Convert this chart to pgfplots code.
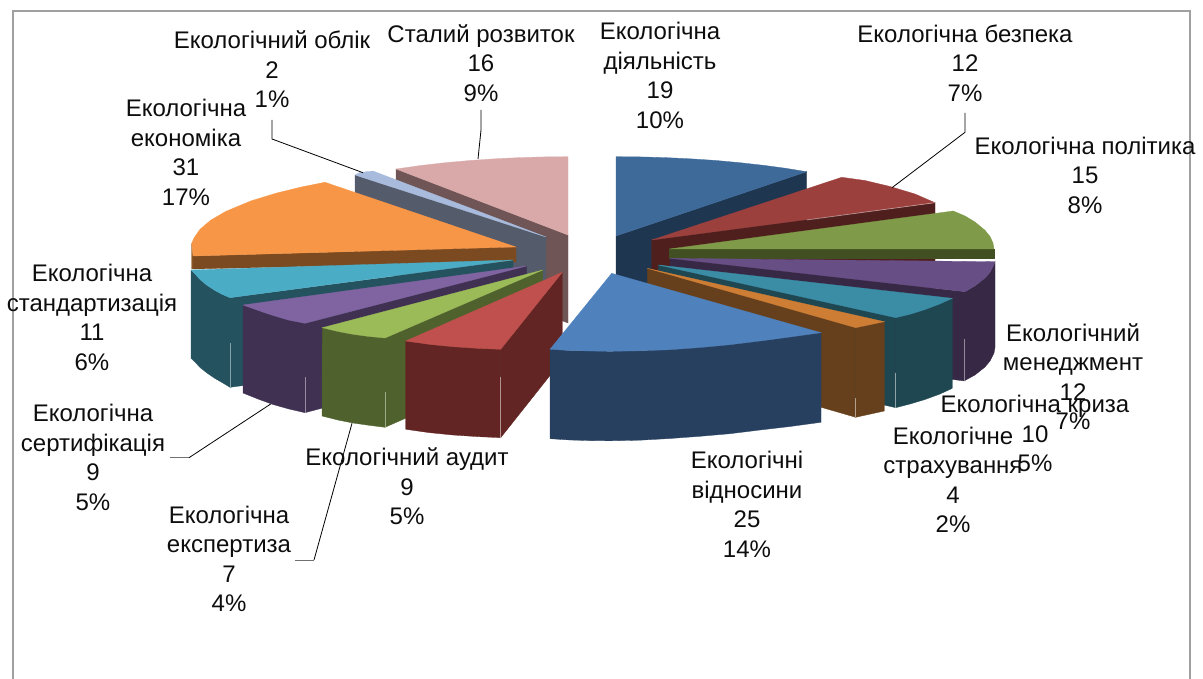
\documentclass[border=0pt]{standalone}
\usepackage{pgfplots}
\pgfplotsset{compat=1.18}
\usepackage{fontspec}
\setmainfont{Liberation Sans}
\definecolor{frameg}{HTML}{A0A0A0}
\newcommand{\mk}[1]{\definecolor{c#1}{HTML}{#1}}
\mk{6F5555}\mk{D9A9A9}\mk{545B6B}\mk{A8BBDC}\mk{7B4A21}\mk{8A5526}\mk{F79646}\mk{24525F}\mk{4BACC6}\mk{403152}\mk{8064A2}\mk{4F612D}\mk{9BBB59}\mk{632523}\mk{C0504D}\mk{1F3650}\mk{3E6A9A}\mk{4F1F1D}\mk{9C403E}\mk{414F23}\mk{7F9A48}\mk{372845}\mk{674F85}\mk{1F4751}\mk{3B8CA5}\mk{66401C}\mk{CE7D34}\mk{27405F}\mk{4F81BD}
\newcommand{\shape}[2]{\addplot[fill=c#1,draw=c#1,line width=0.3pt,forget plot] coordinates {#2} -- cycle;}
\newcommand{\lab}[3]{\node[align=center,font=\fontsize{24}{29.5}\selectfont,inner sep=0pt,text=black!95] at (axis cs:#1,#2) {#3};}
\newcommand{\lead}[1]{\addplot[black,line width=0.8pt,forget plot] coordinates {#1};}
\newcommand{\seam}[1]{\addplot[white,opacity=0.45,line width=0.7pt,forget plot] coordinates {#1};}
\begin{document}
\begin{tikzpicture}
\path[use as bounding box] (0,0) rectangle (1203pt,679pt);
\begin{axis}[at={(0,0)},anchor=south west,scale only axis,width=1203pt,height=679pt,xmin=0,xmax=1203,ymin=0,ymax=679,y dir=reverse,hide axis,clip=false]
% frame
\addplot[frameg,line width=2pt,forget plot] coordinates {(13,679) (13,11) (1190,11) (1190,679)};
% back / left slices
% Sustainable development 16
\shape{6F5555}{(396,169) (568,235) (568,323) (396,257)}
\shape{D9A9A9}{(396,169) (420,165.6) (445,162.7) (470,160.5) (495,158.8) (520,157.6) (545,156.9) (568,156.7) (568,235)}
% Accounting 2
\shape{545B6B}{(355,175) (546,237) (546,325) (355,263)}
\shape{A8BBDC}{(355,175) (360,172.5) (373,171) (546,237)}
% Economics 31
\shape{7B4A21}{(193,256) (516,247) (516,262) (193,269)}
\shape{8A5526}{(191.7,243.3) (193,256) (193,269) (191.7,269)}
\shape{F79646}{(516,247) (325,182.3) (301,187.1) (276,193.2) (251,200.9) (226,211.3) (211,220) (200,229.3) (194,238) (191.7,243.3) (193,256)}
% Standardisation 11
\shape{24525F}{(230,297.7) (513,260.7) (513,350) (230,387.3)}
\shape{24525F}{(191,270) (195,273.8) (200,279.5) (207,285.3) (215,290.5) (222,294.3) (230,297.7) (230,387.3) (222,382.5) (215,378.5) (207,373) (200,367.5) (195,362) (191,358.3)}
\shape{4BACC6}{(513,260) (191,270) (195,273.8) (200,279.5) (207,285.3) (215,290.5) (222,294.3) (230,297.7)}
% Certification 9
\shape{403152}{(305,323.3) (526.7,266) (526.7,354) (305,412.7)}
\shape{403152}{(243,305) (258,310.4) (273,315.5) (289,320.2) (305,323.3) (305,412.7) (289,409) (273,404.5) (258,399) (243,393)}
\shape{8064A2}{(526.7,266) (243,305) (258,310.4) (273,315.5) (289,320.2) (305,323.3)}
% Expertise 7
\shape{4F612D}{(385,338) (542.7,270) (542.7,358) (385,427.3)}
\shape{4F612D}{(322.3,327.7) (338,331.5) (353,334.3) (369,336.5) (385,338) (385,427.3) (369,425.3) (353,423) (338,420) (322,416)}
\shape{9BBB59}{(542.7,270) (322.3,327.7) (338,331.5) (353,334.3) (369,336.5) (385,338)}
% Audit 9
\shape{632523}{(500.7,349.3) (562.3,272.3) (562.3,360) (500.7,437.7)}
\shape{632523}{(405.7,341) (429,344.3) (453,346.7) (477,348.3) (500.7,349.3) (500.7,437.7) (477,436.6) (453,435) (429,432.6) (405.7,429.3)}
\shape{C0504D}{(562.3,272.3) (405.7,341) (429,344.3) (453,346.7) (477,348.3) (500.7,349.3)}
% right slices, back to front
% Activity 19
\shape{1F3650}{(616,236) (806.7,171.7) (806.7,260) (616,324)}
\shape{3E6A9A}{(616,156.7) (640,156.9) (665,157.6) (690,158.8) (715,160.4) (740,162.7) (765,165.5) (785,168.2) (806.7,171.7) (616,236)}
% Safety 12
\shape{4F1F1D}{(651.7,240) (935,202.7) (935,290.7) (651.7,328)}
\shape{9C403E}{(651.7,240) (841.7,177.3) (865,180.5) (890,186.5) (915,194) (935,202.7)}
% Policy 15
\shape{414F23}{(669.3,249) (994,249) (994,258) (669.3,258)}
\shape{7F9A48}{(669.3,249) (953.3,211) (965,216) (975,222) (985,230.3) (990,236.5) (993,243) (994,249)}
% Management 12
\shape{372845}{(670,258.3) (965,291.7) (965,381) (670,345)}
\shape{372845}{(995,261.7) (993.5,265.5) (990,272.3) (985,278) (975,285.9) (965,291.7) (964.5,380.7) (975,375) (985,367) (990,361) (994,353) (995,347.5)}
\shape{674F85}{(670,258.3) (995,261.7) (993.5,265.5) (990,272.3) (985,278) (975,285.9) (965,291.7)}
% Crisis 10
\shape{1F4751}{(658.3,265) (895.7,317.7) (895.7,407.7) (658.3,353)}
\shape{1F4751}{(952.3,298.3) (940,303.9) (925,309.6) (910,314.3) (895.7,317.7) (895.7,407.7) (910,404) (925,399.5) (940,394) (952.3,388.3)}
\shape{3B8CA5}{(658.3,265) (952.3,298.3) (940,303.9) (925,309.6) (910,314.3) (895.7,317.7)}
% Insurance 4
\shape{66401C}{(647.3,268.3) (855.7,327.7) (855.7,417.3) (647.3,357)}
\shape{66401C}{(884.3,321.7) (855.7,327.7) (855.7,417.3) (884.3,411)}
\shape{CE7D34}{(647.3,268.3) (884.3,321.7) (855.7,327.7)}
% Relations 25
\shape{27405F}{(550,349.3) (570,350.5) (590,351) (610,351.3) (640,350.8) (670,349.7) (700,347.5) (730,344.7) (760,341) (790,337) (821,332.7) (821,422.3) (790,426.5) (760,430) (730,433.7) (700,436.3) (670,438.5) (640,440.2) (610,440.8) (590,440.6) (570,440) (550,438.7)}
\shape{4F81BD}{(611.7,273.3) (550,349.3) (570,350.5) (590,351) (610,351.3) (640,350.8) (670,349.7) (700,347.5) (730,344.7) (760,341) (790,337) (821,332.7)}
% seams
\seam{(500.7,377) (500.7,437.7)}
\seam{(385,392) (385,427.3)}
\seam{(305,377) (305,412.7)}
\seam{(230,343) (230,387.3)}
\seam{(964.5,339) (964.5,380.7)}
\seam{(895.7,373) (895.7,407.7)}
\seam{(855.7,398) (855.7,417.3)}
\seam{(806.7,220) (935,202.7)}
% leaders
\lead{(272,120) (272,139) (363,172.7)}
\lead{(481,110) (481,130) (478,159)}
\lead{(965,113) (965,132.3) (892,187.7)}
\addplot[frameg!70!black,line width=0.9pt,forget plot] coordinates {(170,457.7) (189,457.7)};
\lead{(189,457.7) (270.7,404)}
\addplot[frameg!70!black,line width=0.9pt,forget plot] coordinates {(295,560) (314,560)};
\lead{(314,560) (352,423.3)}
% labels
\lab{272}{69.5}{Екологічний облік\\2\\1\%}
\lab{481}{63}{Сталий розвиток\\16\\9\%}
\lab{660}{75.5}{Екологічна\\діяльність\\19\\10\%}
\lab{965}{63}{Екологічна безпека\\12\\7\%}
\lab{1085}{175}{Екологічна політика\\15\\8\%}
\lab{1073}{376.5}{Екологічний\\менеджмент\\12\\7\%}
\lab{1035}{433.5}{Екологічна криза\\10\\5\%}
\lab{953}{480}{Екологічне\\страхування\\4\\2\%}
\lab{747}{504.5}{Екологічні\\відносини\\25\\14\%}
\lab{407}{486.5}{Екологічний аудит\\9\\5\%}
\lab{229}{559}{Екологічна\\експертиза\\7\\4\%}
\lab{93}{457.5}{Екологічна\\сертифікація\\9\\5\%}
\lab{92}{317.5}{Екологічна\\стандартизація\\11\\6\%}
\lab{186}{152.5}{Екологічна\\економіка\\31\\17\%}
\end{axis}
\end{tikzpicture}
\end{document}
